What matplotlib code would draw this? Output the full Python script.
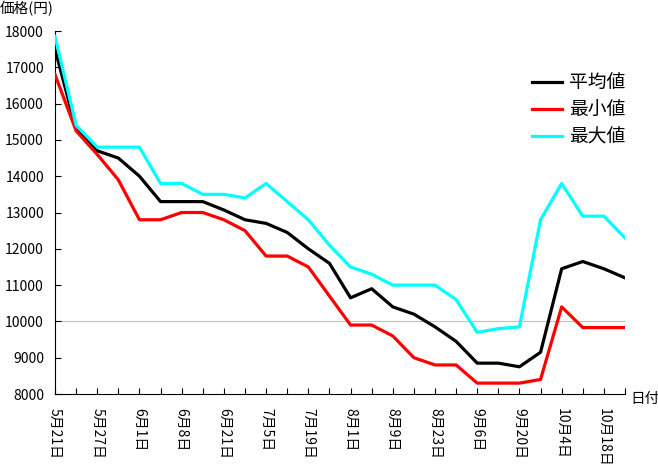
import matplotlib
matplotlib.use("Agg")
import matplotlib.pyplot as plt

plt.rcParams['font.family'] = ['Noto Sans CJK JP', 'DejaVu Sans']

# date labels shown on every other point
date_labels = ["5月21日", "5月27日", "6月1日", "6月8日", "6月21日", "7月5日", "7月19日",
               "8月1日", "8月9日", "8月23日", "9月6日", "9月20日", "10月4日", "10月18日"]

avg_price = [17500, 15300, 14700, 14500, 14000, 13300, 13300, 13300, 13070, 12800,
             12700, 12450, 12000, 11600, 10650, 10900, 10400, 10200, 9850, 9450,
             8850, 8850, 8750, 9150, 11450, 11650, 11450, 11200]
min_price = [16800, 15250, 14600, 13900, 12800, 12800, 13000, 13000, 12800, 12500,
             11800, 11800, 11500, 10700, 9900, 9900, 9600, 9000, 8800, 8800,
             8300, 8300, 8300, 8400, 10400, 9830, 9830, 9830]
max_price = [17850, 15400, 14800, 14800, 14800, 13800, 13800, 13500, 13500, 13400,
             13800, 13300, 12800, 12100, 11500, 11300, 11000, 11000, 11000, 10600,
             9700, 9800, 9850, 12800, 13800, 12900, 12900, 12300]

x = list(range(len(avg_price)))
tick_labels = []
for i in x:
    tick_labels.append(date_labels[i // 2] if i % 2 == 0 else "")

fig = plt.figure(figsize=(6.58, 4.67), dpi=100)
ax = fig.add_axes([55 / 658, 1 - 394 / 467, 570 / 658, 363 / 467])

ax.axhline(10000, color='#c0c0c0', lw=0.8, zorder=1)
ax.plot(x, avg_price, color='black', lw=2.3, label='平均値', zorder=3)
ax.plot(x, min_price, color='#ff0000', lw=2.3, label='最小値', zorder=3)
ax.plot(x, max_price, color='#00ffff', lw=2.3, label='最大値', zorder=3)

ax.set_xlim(0, len(x) - 1)
ax.set_ylim(8000, 18000)
ax.set_yticks(range(8000, 18001, 1000))
ax.set_xticks(x)
ax.set_xticklabels(tick_labels, rotation=-90, fontsize=10)
ax.tick_params(axis='y', direction='in', length=4, width=0.8, labelsize=10, pad=8)
ax.tick_params(axis='x', direction='in', length=4, width=0.8, pad=10)
for lab in ax.get_xticklabels():
    lab.set_verticalalignment('top')
    lab.set_horizontalalignment('center')

ax.spines['top'].set_visible(False)
ax.spines['right'].set_visible(False)
ax.spines['left'].set_linewidth(0.8)
ax.spines['bottom'].set_linewidth(0.8)

ax.legend(loc='upper left', bbox_to_anchor=(523 / 658, 1 - 63 / 467),
          bbox_transform=fig.transFigure, frameon=False, fontsize=13.5,
          handlelength=1.6, handletextpad=0.35, labelspacing=0.33, borderpad=0)

fig.text(0.0, 1 - 9 / 467, "価格(円)", fontsize=10.5, va='center', ha='left')
fig.text(630 / 658, 1 - 399 / 467, "日付", fontsize=10.5, va='center', ha='left')

fig.savefig("out.png", dpi=100)
